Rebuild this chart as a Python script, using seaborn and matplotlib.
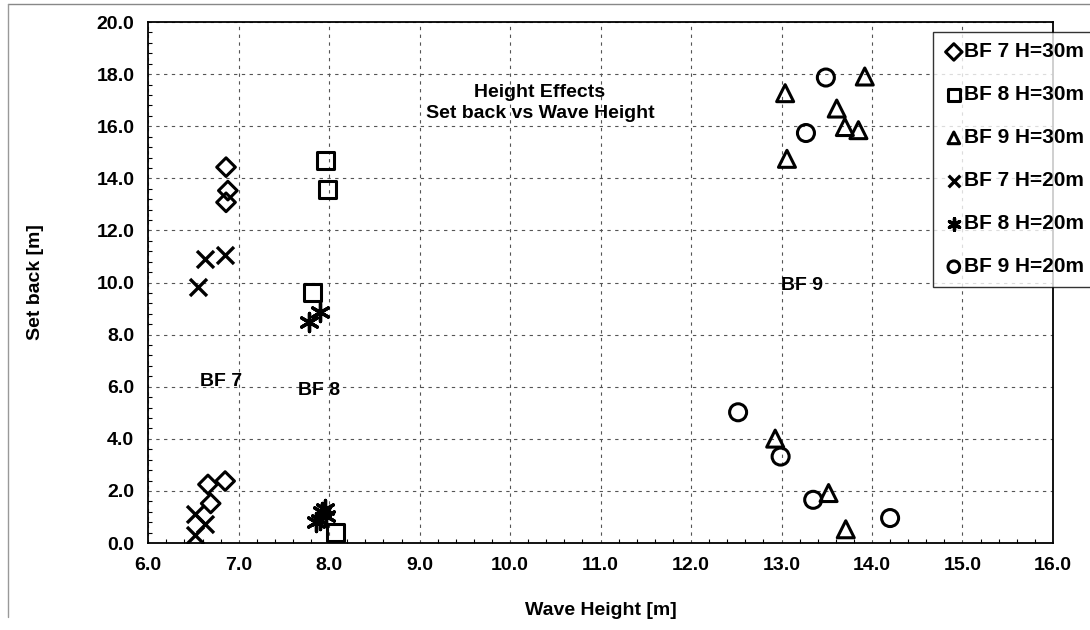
import numpy as np
import pandas as pd
import matplotlib
matplotlib.use("Agg")
import matplotlib.pyplot as plt
import seaborn as sns
from matplotlib.ticker import MultipleLocator, FormatStrFormatter
from matplotlib.lines import Line2D

# values
bf7_30_x = [6.86, 6.88, 6.86, 6.66, 6.85, 6.69]
bf7_30_y = [14.43, 13.53, 13.08, 2.25, 2.38, 1.52]
bf8_30_x = [7.96, 7.98, 7.82, 8.07]
bf8_30_y = [14.69, 13.59, 9.6, 0.4]
bf9_30_x = [13.04, 13.92, 13.61, 13.70, 13.85, 13.06, 12.93, 13.52, 13.71]
bf9_30_y = [17.27, 17.91, 16.68, 15.97, 15.85, 14.75, 4.01, 1.92, 0.53]
bf7_20_x = [6.63, 6.85, 6.55, 6.52, 6.63, 6.52]
bf7_20_y = [10.9, 11.07, 9.84, 1.1, 0.75, 0.3]
bf8_20_x = [7.78, 7.90, 7.85, 7.92, 7.97, 7.95, 7.90]
bf8_20_y = [8.49, 8.88, 0.8, 1.2, 1.05, 1.3, 0.9]
bf9_20_x = [13.49, 13.27, 12.52, 12.99, 13.35, 14.20]
bf9_20_y = [17.87, 15.74, 5.02, 3.32, 1.66, 0.96]

labels = ["BF 7 H=30m", "BF 8 H=30m", "BF 9 H=30m",
          "BF 7 H=20m", "BF 8 H=20m", "BF 9 H=20m"]

series = [
    (bf7_30_x, bf7_30_y, "D", True, 90),
    (bf8_30_x, bf8_30_y, "s", True, 150),
    (bf9_30_x, bf9_30_y, "^", True, 150),
    (bf7_20_x, bf7_20_y, "x", False, 150),
    (bf8_20_x, bf8_20_y, (6, 2, 0), False, 170),
    (bf9_20_x, bf9_20_y, "o", True, 150),
]

sns.set_theme(style="white")
plt.rcParams["font.family"] = ["Liberation Sans", "DejaVu Sans"]
plt.rcParams["font.weight"] = "bold"
plt.rcParams["text.color"] = "black"
plt.rcParams["axes.labelcolor"] = "black"
plt.rcParams["xtick.color"] = "black"
plt.rcParams["ytick.color"] = "black"

fs = 14

fig = plt.figure(figsize=(10.9, 6.3), dpi=100)
ax = fig.add_axes([0.136, 0.138, 0.830, 0.827])

for (xs, ys, mk, filled, size), lab in zip(series, labels):
    df = pd.DataFrame({"wave": xs, "setback": ys})
    if filled:
        sns.scatterplot(data=df, x="wave", y="setback", marker=mk, s=size,
                        facecolors="none", edgecolor="black", linewidth=2.2,
                        ax=ax, label=lab, zorder=3)
    else:
        sns.scatterplot(data=df, x="wave", y="setback", marker=mk, s=size,
                        color="black", linewidth=2.4, ax=ax, label=lab, zorder=3)

ax.set_xlim(6, 16)
ax.set_ylim(0, 20)
ax.xaxis.set_major_locator(MultipleLocator(1))
ax.yaxis.set_major_locator(MultipleLocator(2))
ax.xaxis.set_minor_locator(MultipleLocator(0.2))
ax.yaxis.set_minor_locator(MultipleLocator(0.4))
ax.xaxis.set_major_formatter(FormatStrFormatter("%.1f"))
ax.yaxis.set_major_formatter(FormatStrFormatter("%.1f"))
ax.tick_params(axis="both", which="major", direction="out", length=5,
               width=1, color="black", labelsize=fs, pad=5)
ax.tick_params(axis="both", which="minor", direction="in", length=3,
               width=0.8, color="black")
ax.tick_params(axis="x", which="minor", bottom=True)
ax.tick_params(axis="y", which="minor", left=True)
for lbl in ax.get_xticklabels() + ax.get_yticklabels():
    lbl.set_fontweight("bold")

ax.grid(True, which="major", color="#555555", linestyle=(0, (3, 4)), linewidth=0.8)
for sp in ax.spines.values():
    sp.set_color("black")
    sp.set_linewidth(1.3)

ax.set_xlabel("Wave Height [m]", fontsize=fs, fontweight="bold", labelpad=20)
ax.set_ylabel("Set back [m]", fontsize=fs, fontweight="bold", labelpad=38)

ax.text(10.33, 17.3, "Height Effects", ha="center", va="center",
        fontsize=fs, fontweight="bold")
ax.text(10.33, 16.5, "Set back vs Wave Height", ha="center", va="center",
        fontsize=fs, fontweight="bold")
ax.text(6.8, 6.2, "BF 7", ha="center", va="center", fontsize=fs, fontweight="bold")
ax.text(7.89, 5.86, "BF 8", ha="center", va="center", fontsize=fs, fontweight="bold")
ax.text(13.23, 9.9, "BF 9", ha="center", va="center", fontsize=fs, fontweight="bold")

leg = ax.legend(loc="upper left", bbox_to_anchor=(933 / 1090, 1 - 32 / 630),
                bbox_transform=fig.transFigure, frameon=True, fancybox=False,
                fontsize=15, labelspacing=1.15, handletextpad=0.0,
                handlelength=1.0, borderpad=0.5, borderaxespad=0)
leg.get_frame().set_edgecolor("black")
leg.get_frame().set_linewidth(1.0)
leg.set_zorder(5)
for t in leg.get_texts():
    t.set_fontweight("bold")
for h in leg.legend_handles:
    h.set_sizes([70])

# faint outer frame of the scanned page
fig.add_artist(Line2D([8 / 1090, 1], [1 - 4 / 630, 1 - 4 / 630], color="#888888", lw=1,
                      transform=fig.transFigure))
fig.add_artist(Line2D([8 / 1090, 8 / 1090], [0.02, 1 - 4 / 630], color="#999999", lw=1,
                      transform=fig.transFigure))

fig.savefig("out.png", dpi=100)
